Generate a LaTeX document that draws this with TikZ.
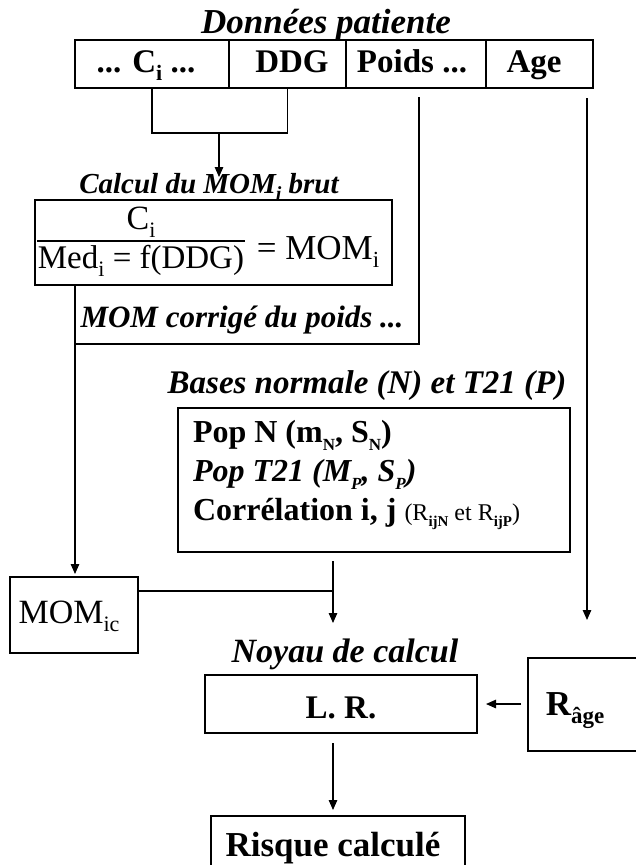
\documentclass[tikz,border=0pt]{standalone}
\usepackage{fontspec}
\setmainfont{Liberation Serif}
\usetikzlibrary{arrows.meta}
\newcommand{\fs}[1]{\fontsize{#1}{#1}\selectfont}
\newcommand{\lowr}[2]{\raisebox{-0.25em}{\fontsize{#1}{#1}\selectfont #2}}
\tikzset{
  box/.style={draw, line width=1.2pt, inner sep=0pt, outer sep=0pt, anchor=north west},
  conn/.style={line width=1.2pt},
  arr/.style={conn, -{Triangle[length=10pt,width=8.5pt]}},
  lbl/.style={inner sep=0pt, outer sep=0pt, anchor=base},
}
\begin{document}
\begin{tikzpicture}[x=1pt,y=-1pt]
\useasboundingbox (0,0) rectangle (636,865);
\clip (0,0) rectangle (636,865);
% title
\node[lbl, font=\fs{35}\bfseries\itshape] (tdp) at (326,33) {Données patiente};
% top row
\node[box, minimum width=154pt, minimum height=48pt] (ci) at (75,40) {};
\node[box, minimum width=117pt, minimum height=48pt] (ddg) at (229,40) {};
\node[box, minimum width=140pt, minimum height=48pt] (poids) at (346,40) {};
\node[box, minimum width=107pt, minimum height=48pt] (age) at (486,40) {};
\node[lbl, font=\fs{33}\bfseries] (cit) at (146,72) {... C\lowr{22}{i} ...};
\node[lbl, font=\fs{33}\bfseries] (ddgt) at (292,72) {DDG};
\node[lbl, font=\fs{33}\bfseries] (poidst) at (412,72) {Poids ...};
\node[lbl, font=\fs{33}\bfseries] (aget) at (534,72) {Age};
% calcul
\node[lbl, font=\fs{29}\bfseries\itshape] (tcalc) at (209,193) {Calcul du MOM\lowr{20}{i} brut};
\node[box, minimum width=357pt, minimum height=85pt] (form) at (35,200) {};
\node[lbl, font=\fs{34}] (num) at (141,229) {C\lowr{22}{i}};
\draw[line width=1.2pt] (37,241) -- (245,241);
\node[lbl, font=\fs{33}] (den) at (141,268) {Med\lowr{22}{i} = f(DDG)};
\node[lbl, font=\fs{35}] (mom) at (318,259) {= MOM\lowr{23}{i}};
\node[lbl, font=\fs{31}\bfseries\itshape] (tcorr) at (242,327) {MOM corrigé du poids ...};
% bases
\node[lbl, font=\fs{33}\bfseries\itshape] (tbases) at (367,393) {Bases normale (N) et T21 (P)};
\node[box, minimum width=392pt, minimum height=144pt] (bases) at (178,408) {};
\node[lbl, anchor=base west, font=\fs{32}\bfseries] (popn) at (193,442) {Pop N (m\lowr{17}{N}, S\lowr{17}{N})};
\node[lbl, anchor=base west, font=\fs{32}\bfseries\itshape] (popt) at (193,481) {Pop T21 (M\lowr{17}{P}, S\lowr{17}{P})};
\node[lbl, anchor=base west, font=\fs{32}\bfseries] (corr) at (193,520) {Corrélation i, j {\fs{24}\mdseries (R\lowr{15}{\bfseries ijN} et R\lowr{15}{\bfseries ijP})}};
% MOMic
\node[box, minimum width=128pt, minimum height=76pt] (momic) at (10,577) {};
\node[lbl, font=\fs{34}] (momict) at (69,623) {MOM\lowr{22}{ic}};
% noyau
\node[lbl, font=\fs{34}\bfseries\itshape] (tnoy) at (345,662) {Noyau de calcul};
\node[box, minimum width=272pt, minimum height=58pt] (lr) at (205,675) {};
\node[lbl, font=\fs{33}\bfseries] (lrt) at (341,718) {L. R.};
\node[box, minimum width=140pt, minimum height=93pt] (rage) at (528,658) {};
\node[lbl, font=\fs{35}\bfseries] (raget) at (575,715) {R\lowr{23}{âge}};
\node[box, minimum width=254pt, minimum height=80pt] (risk) at (211,816) {};
\node[lbl, font=\fs{35}\bfseries] (riskt) at (333,856) {Risque calculé};
% coordinates
\coordinate (jb) at (219,133);
\coordinate (ctip) at (219,177);
\coordinate (ps) at (419,97);
\coordinate (mc) at (75,344);
\coordinate (j2) at (333,591);
\coordinate (nt) at (333,623);
\coordinate (as) at (587,98);
\coordinate (at) at (587,620);
% connectors
\draw[conn] (ci.south) |- (jb) -| (ddg.south);
\draw[arr] (jb) -- (ctip);
\draw[conn] (ps) |- (mc);
\draw[arr, shorten >=3pt] (form.south -| mc) -- (momic.north -| mc);
\draw[conn] (momic.east |- j2) -- (j2);
\draw[arr, shorten <=9pt] (bases.south -| nt) -- (nt);
\draw[arr] (as) -- (at);
\draw[arr, shorten <=7pt, shorten >=9pt] (rage.west |- lr.east) -- (lr.east);
\draw[arr, shorten <=10pt, shorten >=6pt] (lr.south -| nt) -- (risk.north -| nt);
\end{tikzpicture}
\end{document}
